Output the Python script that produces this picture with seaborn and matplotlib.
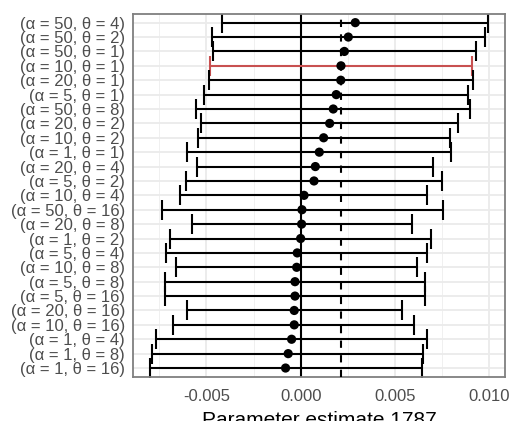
import numpy as np
import pandas as pd
import matplotlib
matplotlib.use("Agg")
import matplotlib.pyplot as plt
import seaborn as sns

alphas = [50, 50, 50, 10, 20, 5, 50, 20, 10, 1, 20, 5, 10, 50, 20, 1, 5, 10, 5, 5, 20, 10, 1, 1, 1]
thetas = [4, 2, 1, 1, 1, 1, 8, 2, 2, 1, 4, 2, 4, 16, 8, 2, 4, 8, 8, 16, 16, 16, 4, 8, 16]
estimates = [0.0029, 0.00253, 0.00232, 0.00214, 0.00213, 0.00189, 0.00173, 0.00154, 0.00122,
             0.00099, 0.00078, 0.00071, 0.00018, 0.00007, 0.00005, 0.0, -0.00018, -0.00021,
             -0.0003, -0.0003, -0.00034, -0.00034, -0.00048, -0.00066, -0.0008]
lower = [-0.00419, -0.00472, -0.00464, -0.00483, -0.00487, -0.00512, -0.00556, -0.00529, -0.00547,
         -0.00604, -0.00549, -0.0061, -0.00641, -0.00736, -0.00577, -0.00694, -0.00713, -0.00664,
         -0.00722, -0.00722, -0.00605, -0.00676, -0.00765, -0.00788, -0.008]
upper = [0.00996, 0.0098, 0.0093, 0.00911, 0.00915, 0.00888, 0.009, 0.00837, 0.00793,
         0.008, 0.00704, 0.0075, 0.00672, 0.00754, 0.00591, 0.00693, 0.0067, 0.00617,
         0.00658, 0.00658, 0.0054, 0.00603, 0.00669, 0.00651, 0.00642]
highlight = (10, 1)
xticks = [-0.005, 0.0, 0.005, 0.010]
xticklabels = ["-0.005", "0.000", "0.005", "0.010"]

labels = [f"(α = {a}, θ = {t})" for a, t in zip(alphas, thetas)]
df = pd.DataFrame({"label": labels, "alpha": alphas, "theta": thetas,
                   "est": estimates, "lo": lower, "hi": upper})
df["pos"] = np.arange(len(df))
df["hl"] = [(a, t) == highlight for a, t in zip(alphas, thetas)]
ref_val = df.loc[df["hl"], "est"].iloc[0]

sns.set_theme(style="whitegrid")
plt.rcParams["font.family"] = ["Liberation Sans", "DejaVu Sans"]

fig = plt.figure(figsize=(5.10, 4.21), dpi=100)
ax = fig.add_axes([0.2614, 0.1053, 0.990 - 0.2614, 0.9667 - 0.1053])
ax.set_facecolor("white")

LW = 1.5

# grid
ax.set_xticks([-0.0075, -0.0025, 0.0025, 0.0075], minor=True)
ax.grid(which="major", axis="both", color="#EBEBEB", linewidth=1.3, zorder=0)
ax.grid(which="minor", axis="x", color="#F0F0F0", linewidth=0.7, zorder=0)

ax.axvline(0, color="black", linewidth=LW, zorder=1)

for _, r in df.iterrows():
    col = "#C85050" if r["hl"] else "black"
    ax.errorbar(r["est"], r["pos"], xerr=[[r["est"] - r["lo"]], [r["hi"] - r["est"]]],
                fmt="none", ecolor=col, elinewidth=LW, capsize=7, capthick=LW, zorder=2)

ax.axvline(ref_val, color="black", linewidth=LW, linestyle=(0, (3.5, 3.5)), zorder=3)

sns.scatterplot(data=df, x="est", y="pos", color="black", s=44, edgecolor="none",
                ax=ax, zorder=4, legend=False)

ax.set_xlim(-0.00888, 0.01084)
ax.set_ylim(len(df) - 1 + 0.6, -0.6)
ax.set_yticks(df["pos"])
ax.set_yticklabels(df["label"])
ax.set_xticks(xticks)
ax.set_xticklabels(xticklabels)

ax.tick_params(axis="both", which="major", length=4, width=1.0, color="#555555",
               labelcolor="#4D4D4D", labelsize=12, pad=3)
ax.tick_params(axis="both", which="minor", length=0)
ax.tick_params(axis="x", pad=5)
ax.tick_params(axis="y", pad=2)
for s in ax.spines.values():
    s.set_color("#7F7F7F")
    s.set_linewidth(1.3)
    s.set_visible(True)

ax.set_xlabel("Parameter estimate 1787", fontsize=15, color="black", labelpad=5)
ax.set_ylabel("")

fig.savefig("out.png", dpi=100)
